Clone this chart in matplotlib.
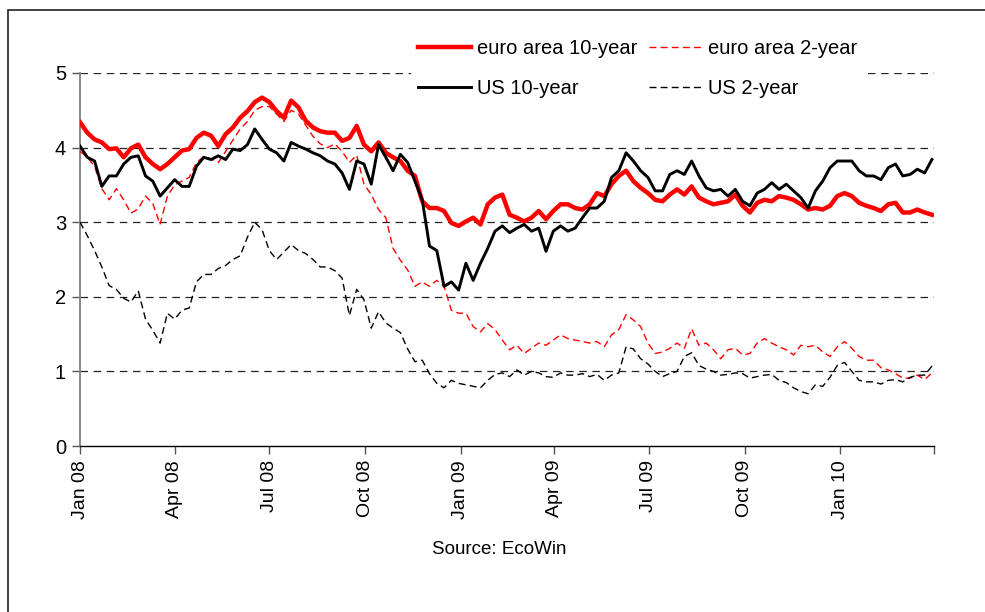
import matplotlib
matplotlib.use("Agg")
import matplotlib.pyplot as plt
from matplotlib.patches import Rectangle
import pandas as pd

plt.rcParams['font.family'] = ['Liberation Sans', 'DejaVu Sans']

# weekly observations starting 1 Jan 2008
start_date = "2008-01-01"

euro_10y = [4.34, 4.20, 4.11, 4.07, 3.98, 3.99, 3.87, 3.99, 4.04, 3.87,
            3.78, 3.71, 3.78, 3.87, 3.96, 3.98, 4.13, 4.20, 4.16, 4.02,
            4.18, 4.27, 4.40, 4.49, 4.61, 4.67, 4.61, 4.49, 4.40, 4.63,
            4.54, 4.36, 4.27, 4.22, 4.20, 4.20, 4.09, 4.13, 4.29, 4.04,
            3.95, 4.07, 3.93, 3.87, 3.82, 3.69, 3.62, 3.28, 3.19, 3.19,
            3.15, 2.99, 2.95, 3.01, 3.06, 2.97, 3.24, 3.33, 3.37, 3.10,
            3.06, 3.01, 3.06, 3.15, 3.04, 3.15, 3.24, 3.24, 3.19, 3.17,
            3.24, 3.39, 3.35, 3.51, 3.62, 3.69, 3.55, 3.46, 3.39, 3.30,
            3.28, 3.37, 3.44, 3.37, 3.48, 3.33, 3.28, 3.24, 3.26, 3.28,
            3.37, 3.22, 3.13, 3.26, 3.30, 3.28, 3.35, 3.33, 3.30, 3.24,
            3.17, 3.19, 3.17, 3.22, 3.35, 3.39, 3.35, 3.26, 3.22, 3.19,
            3.15, 3.24, 3.26, 3.13, 3.13, 3.17, 3.13, 3.10]

euro_2y = [3.95, 3.87, 3.75, 3.45, 3.30, 3.45, 3.30, 3.12, 3.18, 3.35,
           3.25, 2.97, 3.35, 3.50, 3.55, 3.60, 3.80, 3.88, 3.85, 3.80,
           3.95, 4.10, 4.25, 4.35, 4.50, 4.55, 4.55, 4.45, 4.35, 4.50,
           4.45, 4.30, 4.15, 4.05, 4.00, 4.05, 3.95, 3.80, 3.90, 3.51,
           3.37, 3.17, 3.06, 2.65, 2.49, 2.36, 2.14, 2.20, 2.14, 2.22,
           2.14, 1.82, 1.78, 1.78, 1.60, 1.53, 1.64, 1.56, 1.42, 1.29,
           1.35, 1.24, 1.31, 1.38, 1.35, 1.42, 1.49, 1.44, 1.42, 1.40,
           1.38, 1.40, 1.33, 1.49, 1.56, 1.76, 1.69, 1.60, 1.38, 1.24,
           1.26, 1.31, 1.38, 1.31, 1.57, 1.35, 1.38, 1.29, 1.17, 1.29,
           1.31, 1.22, 1.24, 1.38, 1.44, 1.38, 1.33, 1.29, 1.22, 1.35,
           1.33, 1.35, 1.26, 1.20, 1.33, 1.40, 1.31, 1.20, 1.15, 1.15,
           1.05, 1.02, 0.97, 0.91, 0.91, 0.95, 0.89, 0.98]

us_10y = [4.02, 3.87, 3.82, 3.48, 3.62, 3.62, 3.78, 3.87, 3.89, 3.62,
          3.55, 3.35, 3.46, 3.57, 3.48, 3.48, 3.75, 3.87, 3.84, 3.89,
          3.84, 3.98, 3.96, 4.04, 4.25, 4.11, 3.98, 3.93, 3.82, 4.07,
          4.02, 3.98, 3.93, 3.89, 3.82, 3.78, 3.66, 3.44, 3.82, 3.78,
          3.51, 4.04, 3.87, 3.69, 3.91, 3.80, 3.55, 3.30, 2.68, 2.62,
          2.14, 2.20, 2.09, 2.45, 2.22, 2.45, 2.65, 2.88, 2.95, 2.86,
          2.92, 2.97, 2.88, 2.92, 2.61, 2.88, 2.95, 2.88, 2.92, 3.06,
          3.19, 3.19, 3.28, 3.60, 3.69, 3.93, 3.82, 3.69, 3.60, 3.42,
          3.42, 3.64, 3.69, 3.64, 3.82, 3.62, 3.46, 3.42, 3.44, 3.35,
          3.44, 3.28, 3.22, 3.39, 3.44, 3.53, 3.44, 3.51, 3.42, 3.33,
          3.19, 3.42, 3.55, 3.73, 3.82, 3.82, 3.82, 3.69, 3.62, 3.62,
          3.57, 3.73, 3.78, 3.62, 3.64, 3.71, 3.66, 3.84]

us_2y = [3.00, 2.82, 2.62, 2.40, 2.15, 2.10, 1.98, 1.93, 2.08, 1.70,
         1.55, 1.38, 1.78, 1.70, 1.82, 1.85, 2.20, 2.30, 2.30, 2.38,
         2.42, 2.50, 2.55, 2.80, 3.00, 2.90, 2.62, 2.50, 2.60, 2.70,
         2.62, 2.58, 2.50, 2.40, 2.40, 2.35, 2.25, 1.75, 2.10, 1.96,
         1.58, 1.80, 1.65, 1.58, 1.52, 1.30, 1.13, 1.15, 0.97, 0.84,
         0.78, 0.88, 0.84, 0.82, 0.80, 0.78, 0.88, 0.96, 0.98, 0.93,
         1.02, 0.95, 1.00, 0.98, 0.93, 0.92, 0.98, 0.95, 0.95, 0.97,
         0.93, 0.96, 0.88, 0.95, 0.98, 1.33, 1.30, 1.17, 1.10, 1.00,
         0.93, 0.97, 1.00, 1.20, 1.25, 1.08, 1.03, 1.00, 0.95, 0.96,
         0.98, 0.97, 0.91, 0.93, 0.95, 0.96, 0.88, 0.85, 0.78, 0.73,
         0.70, 0.82, 0.80, 0.92, 1.08, 1.12, 1.00, 0.88, 0.86, 0.86,
         0.83, 0.88, 0.89, 0.86, 0.92, 0.95, 0.95, 1.07]

tick_dates = ["2008-01-01", "2008-04-01", "2008-07-01", "2008-10-01",
              "2009-01-01", "2009-04-01", "2009-07-01", "2009-10-01",
              "2010-01-01", "2010-04-01"]
tick_labels = ["Jan 08", "Apr 08", "Jul 08", "Oct 08", "Jan 09", "Apr 09",
               "Jul 09", "Oct 09", "Jan 10", ""]
y_ticks = [0, 1, 2, 3, 4, 5]
series_names = ["euro area 10-year", "euro area 2-year", "US 10-year", "US 2-year"]
source_text = "Source: EcoWin"

dates = pd.date_range(start_date, periods=len(euro_10y), freq="7D")

W, H = 985, 612
fig = plt.figure(figsize=(W / 100, H / 100), dpi=100)
fig.patch.set_facecolor("white")

# outer frame
fig.patches.append(Rectangle((8 / W, -0.05), 1.1, 1 - 10 / H + 0.05,
                             transform=fig.transFigure, fill=False,
                             edgecolor="#202020", linewidth=1.2))

ax = fig.add_axes([80 / W, 1 - 446 / H, (934 - 80) / W, (446 - 73) / H])

l_e10, = ax.plot(dates, euro_10y, color="#ff0000", lw=3.2, solid_joinstyle="round", zorder=4)
l_e2, = ax.plot(dates, euro_2y, color="#ff0000", lw=1.0, linestyle=(0, (5, 3)), zorder=3)
l_u10, = ax.plot(dates, us_10y, color="black", lw=2.1, solid_joinstyle="round", zorder=5)
l_u2, = ax.plot(dates, us_2y, color="black", lw=1.0, linestyle=(0, (5, 3)), zorder=3)

ax.set_xlim(pd.Timestamp(tick_dates[0]), pd.Timestamp(tick_dates[-1]))
ax.set_ylim(0, 5)
ax.set_yticks(y_ticks)
ax.set_yticklabels([str(v) for v in y_ticks])
ax.set_xticks([pd.Timestamp(d) for d in tick_dates])
ax.set_xticklabels(tick_labels, rotation=90, va="top", ha="center")

for v in y_ticks[1:]:
    ax.axhline(v, color="#222222", lw=0.9, linestyle=(0, (6, 4.5)), zorder=1)

for s in ["top", "right"]:
    ax.spines[s].set_visible(False)
ax.spines["left"].set_color("#808080")
ax.spines["left"].set_linewidth(1.3)
ax.spines["bottom"].set_color("black")
ax.spines["bottom"].set_linewidth(1.0)
ax.tick_params(axis="x", direction="out", length=6, width=1, color="#555555",
               labelsize=14, pad=4)
ax.tick_params(axis="y", direction="out", length=6, width=1, color="#555555",
               labelsize=14.5, pad=4)

leg = fig.legend([l_e10, l_u10, l_e2, l_u2],
                 [series_names[0], series_names[2], series_names[1], series_names[3]],
                 ncol=2, loc="upper left", bbox_to_anchor=(411 / W, 1 - 32 / H),
                 fontsize=14.5, frameon=True, facecolor="white", edgecolor="none",
                 framealpha=1.0, fancybox=False, handlelength=2.65,
                 handletextpad=0.28, columnspacing=0.55, labelspacing=1.05,
                 borderpad=0.35, borderaxespad=0)
leg.set_zorder(10)

fig.text(499 / W, 1 - 550 / H, source_text, ha="center", va="center", fontsize=13.5)

fig.savefig("out.png", dpi=100)
